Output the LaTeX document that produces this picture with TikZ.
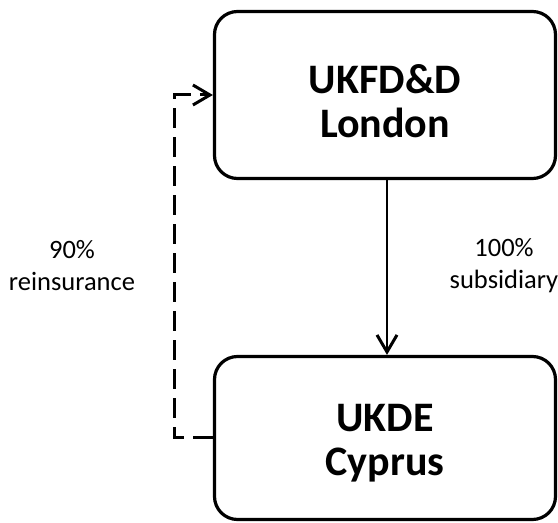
\documentclass[tikz,border=0pt]{standalone}
\usepackage{fontspec}
\setmainfont{Carlito}
\usetikzlibrary{arrows.meta}
\begin{document}
\begin{tikzpicture}[x=1pt,y=1pt,
  entbox/.style={draw=black, line width=3.2pt, rounded corners=23pt, minimum width=341pt, inner sep=0pt},
  titletext/.style={font=\fontsize{42}{44}\selectfont\bfseries, align=center, inner sep=0pt},
  labeltext/.style={font=\fontsize{26.5}{32}\selectfont, align=center, inner sep=0pt},
  tip/.style={-{Straight Barb[length=17pt,width=20pt,line width=3pt]}}
]
\useasboundingbox (0,0) rectangle (558,523);
\node[entbox, minimum height=167pt] (a) at (385,428) {};
\node[entbox, minimum height=163pt] (b) at (385,85) {};
\node[titletext] (at) at ([yshift=-6pt]a.center) {UKFD\&D\\London};
\node[titletext] (bt) at ([yshift=-5pt]b.center) {UKDE\\Cyprus};
\draw[line width=2.8pt, tip] (a.south -| 387,0) -- (b.north -| 387,0);
\draw[line width=3pt, dash pattern=on 20pt off 9pt, tip] (b.west) -- ++(-38,0) |- (a.west);
\node[labeltext] (l1) at (72,257) {90\%\\reinsurance};
\node[labeltext] (l2) at (504,257) {100\%\\subsidiary};
\end{tikzpicture}
\end{document}
